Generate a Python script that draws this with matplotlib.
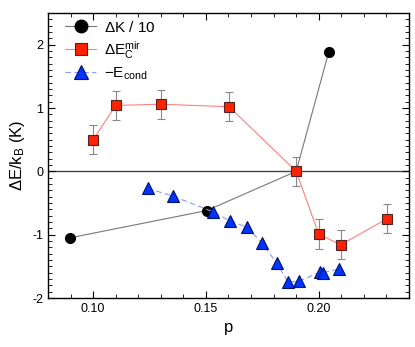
import matplotlib
matplotlib.use("Agg")
import matplotlib.pyplot as plt
from matplotlib.ticker import MultipleLocator
from matplotlib.lines import Line2D

plt.rcParams['font.family'] = ['Liberation Sans', 'DejaVu Sans']
plt.rcParams['mathtext.fontset'] = 'custom'
plt.rcParams['mathtext.rm'] = 'Liberation Sans'
plt.rcParams['mathtext.it'] = 'Liberation Sans'

# Data
k_p = [0.0897, 0.1503, 0.19, 0.2044]
k_val = [-1.05, -0.62, 0.0, 1.88]

e_p = [0.10, 0.11, 0.13, 0.1603, 0.19, 0.20, 0.2097, 0.2302]
e_val = [0.50, 1.04, 1.06, 1.02, 0.0, -0.99, -1.16, -0.75]
e_err = [0.23, 0.23, 0.23, 0.23, 0.23, 0.23, 0.23, 0.23]

c_p = [0.1242, 0.1353, 0.1532, 0.1605, 0.1684, 0.1747, 0.1814, 0.1864, 0.1913, 0.2007, 0.2019, 0.2090]
c_val = [-0.27, -0.39, -0.64, -0.78, -0.885, -1.13, -1.45, -1.75, -1.735, -1.59, -1.60, -1.54]

labels = [r'$\Delta$K / 10', r'$\Delta$E$_{\rm C}^{\rm mir}$', r'$-$E$_{\rm cond}$']

fig = plt.figure(figsize=(4.15, 3.47), dpi=100)
ax = fig.add_axes([0.1157, 0.1412, 0.8698, 0.8213])

ax.axhline(0, color='#444444', lw=1.0, zorder=1)

k_style = dict(color='#777777', lw=0.8, marker='o', mfc='black', mec='black')
e_style = dict(color='#ff8080', lw=0.8, marker='s', mfc='#ff2200', mec='#552222', mew=0.8)
c_style = dict(color='#8899ff', lw=0.8, ls='--', dashes=(5, 3), marker='^',
               mfc='#0033ff', mec='#001166', mew=0.8)

ax.plot(k_p, k_val, ms=7, zorder=3, **k_style)
ax.errorbar(e_p, e_val, yerr=e_err, ms=7, ecolor='#888888', elinewidth=0.8,
            capsize=3, capthick=0.8, zorder=4, **e_style)
ax.plot(c_p, c_val, ms=9, zorder=5, **c_style)

handles = [Line2D([], [], ms=9, **k_style),
           Line2D([], [], ms=9, **e_style),
           Line2D([], [], ms=10, **c_style)]

ax.set_xlim(0.08, 0.24)
ax.set_ylim(-2, 2.5)
ax.xaxis.set_minor_locator(MultipleLocator(0.01))
ax.yaxis.set_minor_locator(MultipleLocator(0.1))
ax.set_xticks([0.10, 0.15, 0.20])
ax.set_xticklabels(['0.10', '0.15', '0.20'])
ax.set_yticks([-2, -1, 0, 1, 2])
ax.set_yticklabels(['-2', '-1', '0', '1', '2'])
ax.tick_params(which='both', direction='in', top=True, right=True, labelsize=9)
ax.tick_params(which='major', length=5, width=0.8)
ax.tick_params(which='minor', length=3, width=0.6)
for s in ax.spines.values():
    s.set_linewidth(1.0)

ax.set_xlabel('p', fontsize=12)
ax.set_ylabel(r'$\Delta$E/k$_{\rm B}$ (K)', fontsize=12)

ax.legend(handles, labels, loc='upper left', frameon=False, fontsize=11,
          handlelength=2.0, handletextpad=0.5, bbox_to_anchor=(0.01, 1.025),
          labelspacing=0.3)

fig.savefig('out.png', dpi=100)
